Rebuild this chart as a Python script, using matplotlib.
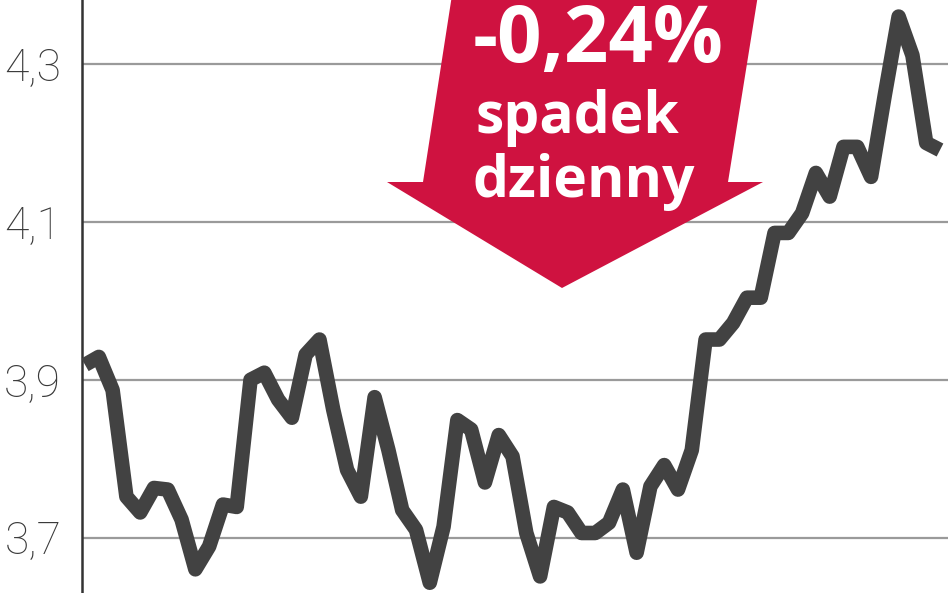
import numpy as np
import matplotlib
matplotlib.use("Agg")
from matplotlib import pyplot as plt
from matplotlib.patches import Polygon

# kurs dzienny
values = [3.919, 3.929, 3.887, 3.752, 3.732, 3.763, 3.761, 3.723, 3.660, 3.689,
          3.742, 3.739, 3.900, 3.909, 3.875, 3.852, 3.932, 3.951, 3.862, 3.786,
          3.752, 3.878, 3.811, 3.735, 3.710, 3.643, 3.714, 3.849, 3.837, 3.770,
          3.830, 3.803, 3.706, 3.651, 3.739, 3.732, 3.706, 3.706, 3.719, 3.761,
          3.681, 3.765, 3.792, 3.761, 3.811, 3.951, 3.951, 3.972, 4.004, 4.004,
          4.086, 4.086, 4.111, 4.162, 4.132, 4.195, 4.195, 4.157, 4.261, 4.360,
          4.311, 4.200, 4.191]
yticks = [3.7, 3.9, 4.1, 4.3]
ytick_labels = ["3,7", "3,9", "4,1", "4,3"]
change_text = "-0,24%"
change_lines = ["spadek", "dzienny"]

W, H = 948, 593
fig = plt.figure(figsize=(W / 100, H / 100), dpi=100)
ax = fig.add_axes([82 / W, 0, 1 - 82 / W, 1])

x = np.arange(len(values))
ax.plot(x, values, color="#424242", lw=10.5, solid_joinstyle="round",
        solid_capstyle="butt", zorder=3)

ax.set_xlim(-0.22, len(values) - 1 + 0.58)
ax.set_ylim(3.630, 4.381)
ax.set_yticks(yticks)
ax.set_yticklabels(ytick_labels)
ax.set_xticks([])
ax.tick_params(axis="y", length=0, pad=15, labelsize=32, labelcolor="#3a3a3a")
for lab in ax.get_yticklabels():
    lab.set_fontfamily("Roboto")
    lab.set_fontweight("light")
ax.grid(axis="y", color="#9a9a9a", lw=1.6, zorder=1)
for s in ["top", "right", "bottom"]:
    ax.spines[s].set_visible(False)
ax.spines["left"].set_color("#333333")
ax.spines["left"].set_linewidth(1.8)

# czerwona strzalka
pts = [(452, -5), (758, -5), (728, 182), (763, 182), (562, 288), (387, 182), (423, 182)]
poly = Polygon([(px / W, 1 - py / H) for px, py in pts], closed=True,
               transform=fig.transFigure, facecolor="#cf1240", edgecolor="none", zorder=5)
fig.patches.append(poly)

fig.text(598 / W, 1 - 62 / H, change_text, color="white", fontsize=56,
         fontweight="bold", family="Open Sans", ha="center", va="baseline", zorder=6)
fig.text(577 / W, 1 - 133 / H, change_lines[0], color="white", fontsize=41,
         fontweight="bold", family="Open Sans", ha="center", va="baseline", zorder=6)
fig.text(584 / W, 1 - 197 / H, change_lines[1], color="white", fontsize=41,
         fontweight="bold", family="Open Sans", ha="center", va="baseline", zorder=6)

fig.savefig("out.png", dpi=100)
